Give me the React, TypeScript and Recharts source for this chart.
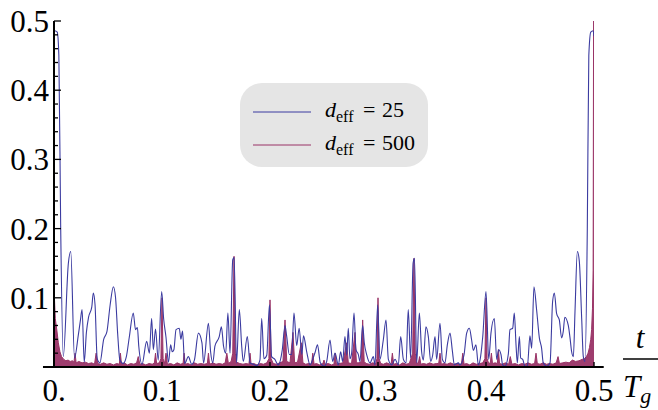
import React from 'react';
import { ComposedChart, Line, Area, XAxis, YAxis, ReferenceLine, Legend } from 'recharts';

const dEffValues = ['25', '500'];
const seriesNames = ['d_eff = 25', 'd_eff = 500'];
const xTicks = [0, 0.1, 0.2, 0.3, 0.4, 0.5];
const xTickLabels = ['0.', '0.1', '0.2', '0.3', '0.4', '0.5'];
const yMajorTicks = [0.1, 0.2, 0.3, 0.4, 0.5];
const yMinorTicks = [0.02, 0.04, 0.06, 0.08, 0.12, 0.14, 0.16, 0.18, 0.22, 0.24, 0.26, 0.28, 0.32, 0.34, 0.36, 0.38, 0.42, 0.44, 0.46, 0.48];

// d_eff = 25  (t / T_g, value)
const blueSeries: [number, number][] = [
  [0, 0.478], [0.0008, 0.486], [0.003, 0.484], [0.0045, 0.45], [0.0062, 0.2], [0.0086, 0.015],
  [0.0133, 0.15], [0.0155, 0.167], [0.019, 0.013], [0.0225, 0.046], [0.0245, 0.068], [0.026, 0.083],
  [0.028, 0.007], [0.03, 0.05], [0.032, 0.072], [0.035, 0.087], [0.0364, 0.107], [0.038, 0.09],
  [0.04, 0.012], [0.0425, 0.006], [0.046, 0.04], [0.049, 0.051], [0.052, 0.09], [0.055, 0.116],
  [0.057, 0.1], [0.059, 0.047], [0.061, 0.01], [0.064, 0.005], [0.067, 0.015], [0.0697, 0.043],
  [0.0734, 0.078], [0.0755, 0.054], [0.0772, 0.057], [0.0785, 0.03], [0.0815, 0.004], [0.0858, 0.037],
  [0.0883, 0.02], [0.0904, 0.07], [0.092, 0.025], [0.094, 0.055], [0.0965, 0.01], [0.0997, 0.109],
  [0.1015, 0.07], [0.1037, 0.043], [0.106, 0.007], [0.108, 0.032], [0.1095, 0.022], [0.111, 0.025],
  [0.113, 0.054], [0.116, 0.056], [0.1175, 0.04], [0.119, 0.052], [0.121, 0.005], [0.1244, 0.015],
  [0.1275, 0.004], [0.13, 0.01], [0.1337, 0.049], [0.137, 0.035], [0.1385, 0.006], [0.143, 0.063],
  [0.145, 0.022], [0.147, 0.006], [0.149, 0.03], [0.153, 0.044], [0.155, 0.058], [0.157, 0.03],
  [0.159, 0.02], [0.161, 0.078], [0.163, 0.02], [0.1655, 0.155], [0.1668, 0.158], [0.169, 0.006],
  [0.1716, 0.083], [0.1738, 0.03], [0.1753, 0.008], [0.179, 0.044], [0.1815, 0.006], [0.1846, 0.004],
  [0.1877, 0.002], [0.1907, 0.01], [0.1923, 0.07], [0.1944, 0.012], [0.197, 0.017], [0.1995, 0.09],
  [0.2015, 0.015], [0.2045, 0.011], [0.2076, 0.003], [0.2113, 0.024], [0.2139, 0.06], [0.2154, 0.045],
  [0.2179, 0.018], [0.2201, 0.018], [0.2222, 0.078], [0.2247, 0.031], [0.227, 0.056], [0.2295, 0.018],
  [0.231, 0.045], [0.234, 0.022], [0.2371, 0.003], [0.2395, 0.011], [0.2417, 0.021], [0.244, 0.032],
  [0.2466, 0.006], [0.2503, 0.001], [0.2525, 0.008], [0.2556, 0.039], [0.258, 0.008], [0.2602, 0.02],
  [0.2633, 0.003], [0.2654, 0.022], [0.2673, 0.008], [0.2694, 0.044], [0.271, 0.017], [0.2725, 0.056],
  [0.274, 0.012], [0.2756, 0.02], [0.2778, 0.078], [0.2796, 0.025], [0.2818, 0.018], [0.2833, 0.008],
  [0.2858, 0.06], [0.2873, 0.035], [0.2895, 0.018], [0.2926, 0.006], [0.2957, 0.015], [0.2972, 0.003],
  [0.2997, 0.09], [0.3018, 0.011], [0.3049, 0.039], [0.3074, 0.068], [0.3096, 0.011], [0.3127, 0.003],
  [0.3158, 0.011], [0.3188, 0.003], [0.321, 0.044], [0.3235, 0.011], [0.326, 0.006], [0.328, 0.083],
  [0.3302, 0.013], [0.3325, 0.15], [0.3338, 0.157], [0.3358, 0.006], [0.3383, 0.078], [0.3404, 0.022],
  [0.342, 0.01], [0.3444, 0.058], [0.3466, 0.044], [0.3488, 0.008], [0.3506, 0.017], [0.3528, 0.044],
  [0.3543, 0.011], [0.3574, 0.063], [0.3596, 0.011], [0.362, 0.006], [0.3642, 0.032], [0.3667, 0.049],
  [0.3688, 0.024], [0.3707, 0.003], [0.3744, 0.006], [0.3759, 0.003], [0.3796, 0.017], [0.3821, 0.049],
  [0.3846, 0.056], [0.3867, 0.039], [0.3883, 0.024], [0.3907, 0.032], [0.3929, 0.003], [0.395, 0.015],
  [0.397, 0.044], [0.4, 0.109], [0.4025, 0.011], [0.4046, 0.049], [0.4077, 0.07], [0.4099, 0.011],
  [0.4117, 0.025], [0.4139, 0.018], [0.4154, 0.003], [0.4176, 0.001], [0.4207, 0.019], [0.4222, 0.054],
  [0.4247, 0.056], [0.4262, 0.078], [0.4278, 0.032], [0.429, 0.006], [0.4309, 0.044], [0.4321, 0.013],
  [0.434, 0.011], [0.4361, 0.001], [0.4383, 0.001], [0.4407, 0.045], [0.4423, 0.027], [0.4444, 0.116],
  [0.4469, 0.082], [0.4494, 0.042], [0.4515, 0.027], [0.453, 0.006], [0.4562, 0.001], [0.4593, 0.006],
  [0.4617, 0.095], [0.4633, 0.107], [0.4654, 0.077], [0.4679, 0.068], [0.47, 0.042], [0.4715, 0.051],
  [0.473, 0.072], [0.4762, 0.06], [0.4778, 0.042], [0.4793, 0.022], [0.4809, 0.015], [0.4824, 0.08],
  [0.4846, 0.167], [0.4864, 0.153], [0.4886, 0.07], [0.4901, 0.015], [0.4917, 0.008], [0.4938, 0.2],
  [0.4952, 0.45], [0.497, 0.484], [0.4992, 0.486], [0.5, 0.478],
];

// d_eff = 500  (t / T_g, value)
const redSeries: [number, number][] = [
  [0, 0.5], [0.0004, 0.1], [0.0012, 0.07], [0.0025, 0.055], [0.004, 0.035], [0.0055, 0.022],
  [0.007, 0.015], [0.009, 0.011], [0.011, 0.009], [0.013, 0.01], [0.015, 0.008], [0.017, 0.009],
  [0.0185, 0.007], [0.0195, 0.02], [0.0205, 0.006], [0.023, 0.008], [0.026, 0.006], [0.029, 0.007],
  [0.032, 0.005], [0.035, 0.006], [0.0375, 0.004], [0.039, 0.02], [0.0405, 0.005], [0.043, 0.004],
  [0.046, 0.006], [0.049, 0.004], [0.052, 0.005], [0.055, 0.003], [0.058, 0.005], [0.0605, 0.004],
  [0.0615, 0.02], [0.0625, 0.004], [0.065, 0.006], [0.068, 0.003], [0.071, 0.005], [0.074, 0.004],
  [0.0765, 0.006], [0.078, 0.015], [0.0795, 0.004], [0.082, 0.005], [0.085, 0.003], [0.088, 0.005],
  [0.091, 0.004], [0.093, 0.006], [0.094, 0.02], [0.095, 0.005], [0.0975, 0.006], [0.099, 0.012],
  [0.1, 0.1], [0.101, 0.012], [0.1025, 0.005], [0.1037, 0.02], [0.105, 0.004], [0.108, 0.005],
  [0.111, 0.003], [0.114, 0.006], [0.117, 0.004], [0.1195, 0.005], [0.1205, 0.02], [0.1215, 0.004],
  [0.124, 0.005], [0.127, 0.003], [0.13, 0.006], [0.133, 0.004], [0.136, 0.005], [0.139, 0.004],
  [0.142, 0.005], [0.143, 0.02], [0.144, 0.004], [0.147, 0.006], [0.15, 0.004], [0.153, 0.005],
  [0.156, 0.004], [0.1585, 0.006], [0.16, 0.02], [0.1615, 0.005], [0.164, 0.008], [0.1655, 0.02],
  [0.1667, 0.16], [0.1679, 0.02], [0.169, 0.007], [0.172, 0.005], [0.175, 0.004], [0.178, 0.005],
  [0.1805, 0.004], [0.1815, 0.02], [0.1825, 0.004], [0.185, 0.005], [0.188, 0.003], [0.191, 0.005],
  [0.194, 0.004], [0.197, 0.006], [0.199, 0.012], [0.2, 0.097], [0.201, 0.012], [0.203, 0.005],
  [0.206, 0.004], [0.209, 0.006], [0.212, 0.008], [0.2139, 0.068], [0.2155, 0.008], [0.2185, 0.006],
  [0.2213, 0.05], [0.2228, 0.006], [0.2255, 0.007], [0.229, 0.035], [0.2305, 0.006], [0.233, 0.004],
  [0.236, 0.005], [0.2385, 0.004], [0.2396, 0.02], [0.2408, 0.004], [0.243, 0.005], [0.246, 0.003],
  [0.249, 0.005], [0.25, 0.01], [0.251, 0.004], [0.254, 0.005], [0.257, 0.003], [0.2592, 0.004],
  [0.2604, 0.02], [0.2615, 0.004], [0.264, 0.005], [0.2675, 0.006], [0.271, 0.035], [0.2725, 0.006],
  [0.2755, 0.005], [0.2787, 0.05], [0.28, 0.006], [0.2825, 0.006], [0.2845, 0.008], [0.2858, 0.068],
  [0.2872, 0.008], [0.289, 0.005], [0.292, 0.004], [0.295, 0.006], [0.298, 0.005], [0.299, 0.012],
  [0.3, 0.1], [0.301, 0.012], [0.3025, 0.005], [0.305, 0.004], [0.308, 0.006], [0.311, 0.004],
  [0.3122, 0.005], [0.3133, 0.02], [0.3145, 0.004], [0.317, 0.005], [0.32, 0.003], [0.323, 0.006],
  [0.326, 0.004], [0.329, 0.005], [0.3321, 0.02], [0.3333, 0.157], [0.3345, 0.02], [0.336, 0.006],
  [0.3373, 0.005], [0.3385, 0.015], [0.3397, 0.004], [0.342, 0.005], [0.345, 0.004], [0.348, 0.006],
  [0.351, 0.004], [0.354, 0.005], [0.3562, 0.005], [0.3574, 0.02], [0.3586, 0.004], [0.361, 0.005],
  [0.364, 0.004], [0.367, 0.006], [0.37, 0.004], [0.373, 0.005], [0.376, 0.004], [0.3773, 0.005],
  [0.3785, 0.02], [0.3797, 0.004], [0.382, 0.005], [0.385, 0.003], [0.388, 0.006], [0.391, 0.004],
  [0.394, 0.005], [0.397, 0.006], [0.399, 0.012], [0.4, 0.1], [0.401, 0.012], [0.4025, 0.005],
  [0.404, 0.006], [0.405, 0.02], [0.406, 0.005], [0.4085, 0.006], [0.4105, 0.005], [0.4115, 0.025],
  [0.4125, 0.005], [0.415, 0.004], [0.418, 0.006], [0.421, 0.004], [0.4225, 0.015], [0.424, 0.004],
  [0.427, 0.005], [0.43, 0.003], [0.433, 0.005], [0.436, 0.004], [0.439, 0.006], [0.442, 0.004],
  [0.445, 0.005], [0.4463, 0.02], [0.4475, 0.005], [0.45, 0.004], [0.453, 0.006], [0.456, 0.004],
  [0.459, 0.005], [0.462, 0.004], [0.465, 0.006], [0.4667, 0.015], [0.468, 0.005], [0.471, 0.006],
  [0.474, 0.007], [0.477, 0.006], [0.48, 0.01], [0.483, 0.008], [0.486, 0.009], [0.489, 0.011],
  [0.491, 0.012], [0.493, 0.015], [0.4945, 0.02], [0.4958, 0.028], [0.497, 0.04], [0.4978, 0.054],
  [0.4986, 0.085], [0.4992, 0.14], [0.4996, 0.5], [0.5, 0.5],
];

const blueData = blueSeries.map(([t, v]) => ({ t, v }));
const redData = redSeries.map(([t, v]) => ({ t, v }));
const yTicks = [...yMinorTicks, ...yMajorTicks].sort((a, b) => a - b);

const BLUE = '#3b3ba0';
const RED = '#993366';
const SERIES_COLORS = [BLUE, RED];
const FONT = '"Liberation Serif", "DejaVu Serif", serif';
const TICK_FONT = 31;

const XTick = (props: any) => {
  const { x, y, payload } = props;
  const i = xTicks.indexOf(payload.value);
  return (
    <g>
      {payload.value !== 0 && (
        <line x1={x} x2={x} y1={y} y2={y - 5} stroke="#000" strokeWidth={1.4} />
      )}
      <text x={x} y={y + 34} textAnchor="middle" fontFamily={FONT} fontSize={TICK_FONT} fill="#000">
        {xTickLabels[i] ?? String(payload.value)}
      </text>
    </g>
  );
};

const YTick = (props: any) => {
  const { x, y, payload } = props;
  const v = payload.value;
  const major = yMajorTicks.some((m) => Math.abs(m - v) < 1e-9);
  return (
    <g>
      <line x1={x} x2={x + (major ? 7 : 4)} y1={y} y2={y} stroke="#000" strokeWidth={1.3} />
      {major && (
        <text x={x - 5} y={y + 11} textAnchor="end" fontFamily={FONT} fontSize={TICK_FONT} fill="#000">
          {v.toFixed(1)}
        </text>
      )}
    </g>
  );
};

const FractionLabel = (props: any) => {
  const vb = props.viewBox || { x: 54, y: 367, width: 540, height: 43 };
  const right = vb.x + vb.width;
  const ay = vb.y;
  return (
    <g>
      <text x={right + 46} y={ay - 19} textAnchor="middle" fontFamily={FONT} fontStyle="italic" fontSize={TICK_FONT} fill="#000">
        t
      </text>
      <line x1={right + 29} x2={right + 66} y1={ay - 8} y2={ay - 8} stroke="#000" strokeWidth={1.3} />
      <text x={right + 29} y={ay + 30} fontFamily={FONT} fontStyle="italic" fontSize={TICK_FONT} fill="#000">
        T
        <tspan fontSize={22} dy={6}>g</tspan>
      </text>
    </g>
  );
};

const LegendBox = (props: any) => {
  const payload = props.payload || [];
  return (
    <svg width={188} height={84} style={{ display: 'block' }}>
      <rect x={0} y={0} width={188} height={84} rx={22} ry={22} fill="#e5e5e5" />
      {dEffValues.map((val, i) => {
        const color = (payload[i] && payload[i].color) || SERIES_COLORS[i];
        const cy = 29 + i * 33;
        return (
          <g key={i}>
            <line x1={13} x2={71} y1={cy} y2={cy} stroke={color} strokeWidth={1} />
            <text x={85} y={cy + 5} fontFamily={FONT} fontSize={22} fill="#000">
              <tspan fontStyle="italic">d</tspan>
              <tspan fontSize={16} dy={5}>eff</tspan>
            </text>
            <text x={123} y={cy + 5} fontFamily={FONT} fontSize={22} fill="#000">=</text>
            <text x={142} y={cy + 5} fontFamily={FONT} fontSize={22} fill="#000">{val}</text>
          </g>
        );
      })}
    </svg>
  );
};

export default function App() {
  return (
    <div style={{ position: 'absolute', left: 0, top: 0, width: 658, height: 410 }}>
      <ComposedChart width={658} height={410} margin={{ top: 21, right: 64, bottom: 0, left: 0 }}>
        <XAxis
          dataKey="t"
          type="number"
          domain={[0, 0.5]}
          ticks={xTicks}
          interval={0}
          height={43}
          axisLine={false}
          tickLine={false}
          tickSize={0}
          tickMargin={0}
          tick={<XTick />}
          label={<FractionLabel />}
          allowDataOverflow
        />
        <YAxis
          type="number"
          domain={[0, 0.5]}
          ticks={yTicks}
          interval={0}
          width={54}
          axisLine={{ stroke: '#000', strokeWidth: 2 }}
          tickLine={false}
          tickSize={0}
          tickMargin={0}
          tick={<YTick />}
          allowDataOverflow
        />
        <Line
          data={blueData}
          dataKey="v"
          name={seriesNames[0]}
          type="monotone"
          stroke={BLUE}
          strokeWidth={1.1}
          dot={false}
          activeDot={false}
          isAnimationActive={false}
        />
        <Area
          data={redData}
          dataKey="v"
          name={seriesNames[1]}
          type="linear"
          stroke={RED}
          strokeWidth={1}
          fill={RED}
          fillOpacity={0.95}
          dot={false}
          activeDot={false}
          isAnimationActive={false}
        />
        <ReferenceLine
          segment={[{ x: -0.0102, y: 0 }, { x: 0.509, y: 0 }]}
          stroke="#000"
          strokeWidth={2}
          ifOverflow="visible"
        />
        <Legend
          layout="horizontal"
          verticalAlign="middle"
          align="center"
          wrapperStyle={{ left: 240, top: 83, width: 188, height: 84 }}
          content={<LegendBox />}
        />
      </ComposedChart>
    </div>
  );
}
